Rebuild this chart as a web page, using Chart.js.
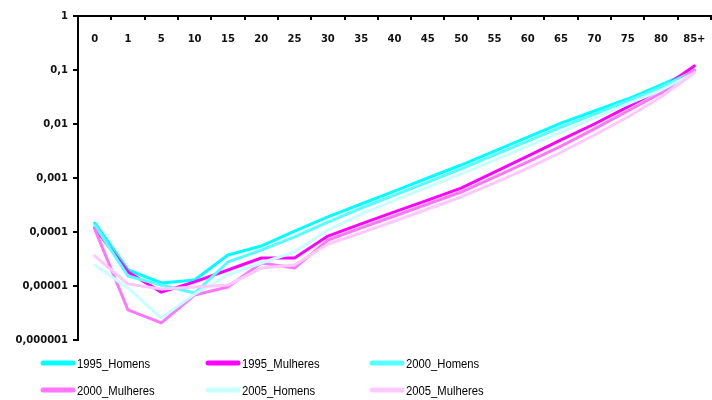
<!DOCTYPE html>
<html>
<head>
<meta charset="utf-8">
<script src="https://cdn.jsdelivr.net/npm/chart.js@4.4.1/dist/chart.umd.min.js"></script>
<style>
  html, body { margin: 0; padding: 0; background: #fff; }
  #wrap { position: relative; width: 712px; height: 400px; }
</style>
</head>
<body>
<div id="wrap"><canvas id="c" width="712" height="400"></canvas></div>
<script>
// Age groups (top axis)
const ageGroups = ['0', '1', '5', '10', '15', '20', '25', '30', '35', '40', '45', '50', '55', '60', '65', '70', '75', '80', '85+'];

// Log axis ticks and their labels (decimal comma)
const yTickValues = [0.000001, 0.00001, 0.0001, 0.001, 0.01, 0.1, 1];
const yTickLabels = ['0,000001', '0,00001', '0,0001', '0,001', '0,01', '0,1', '1'];

// Mortality rates by age group
const homens1995   = [1.47e-4, 1.98e-5, 1.14e-5, 1.29e-5, 3.75e-5, 5.5e-5, 1.04e-4, 1.9e-4, 3.3e-4, 5.7e-4, 1.0e-3, 1.74e-3, 3.16e-3, 5.7e-3, 1.04e-2, 1.74e-2, 2.9e-2, 5.3e-2, 0.100];
const mulheres1995 = [1.19e-4, 1.82e-5, 7.7e-6, 1.19e-5, 1.98e-5, 3.3e-5, 3.3e-5, 8.4e-5, 1.41e-4, 2.35e-4, 3.9e-4, 6.5e-4, 1.29e-3, 2.55e-3, 5.1e-3, 1.0e-2, 2.07e-2, 4.45e-2, 0.119];
const homens2000   = [1.35e-4, 1.53e-5, 1.04e-5, 7.4e-6, 2.78e-5, 4.6e-5, 8.1e-5, 1.53e-4, 2.78e-4, 4.8e-4, 8.4e-4, 1.47e-3, 2.67e-3, 4.8e-3, 8.8e-3, 1.53e-2, 2.67e-2, 4.8e-2, 0.096];
const mulheres2000 = [1.14e-4, 3.6e-6, 2.07e-6, 6.8e-6, 9.6e-6, 2.67e-5, 2.15e-5, 7.1e-5, 1.19e-4, 1.98e-4, 3.3e-4, 5.5e-4, 1.04e-3, 1.98e-3, 3.9e-3, 8.1e-3, 1.74e-2, 3.75e-2, 0.100];
const homens2005   = [2.45e-5, 9.2e-6, 2.55e-6, 7.1e-6, 1.6e-5, 2.67e-5, 4.26e-5, 1.09e-4, 2.15e-4, 3.9e-4, 6.8e-4, 1.19e-3, 2.15e-3, 3.9e-3, 7.1e-3, 1.29e-2, 2.35e-2, 4.26e-2, 0.088];
const mulheres2005 = [3.6e-5, 1.09e-5, 8.8e-6, 9.6e-6, 1.04e-5, 2.15e-5, 2.45e-5, 6.0e-5, 9.6e-5, 1.6e-4, 2.67e-4, 4.45e-4, 8.1e-4, 1.53e-3, 3.0e-3, 6.25e-3, 1.35e-2, 3.16e-2, 0.088];

const seriesNames  = ['1995_Homens', '1995_Mulheres', '2000_Homens', '2000_Mulheres', '2005_Homens', '2005_Mulheres'];
const seriesData   = [homens1995, mulheres1995, homens2000, mulheres2000, homens2005, mulheres2005];
const seriesColors = ['#00FFFF', '#FF00FF', '#55FFFF', '#FF77FF', '#C8FFFF', '#FFC8FF'];

const datasets = seriesNames.map((name, i) => ({
  label: name,
  data: seriesData[i],
  borderColor: seriesColors[i],
  backgroundColor: seriesColors[i],
  borderWidth: 3,
  pointRadius: 0,
  tension: 0,
  fill: false,
  borderJoinStyle: 'round',
  borderCapStyle: 'round',
  order: seriesNames.length - 1 - i   // later series drawn on top
}));

const tickFont = { family: '"DejaVu Sans", Verdana, sans-serif', size: 10, weight: 'bold' };

// Category labels of the top axis, placed just under the axis line
const innerTopLabels = {
  id: 'innerTopLabels',
  afterDraw(chart) {
    const ctx = chart.ctx;
    const xScale = chart.scales.x;
    const y = chart.chartArea.top + 23;
    ctx.save();
    ctx.font = `bold ${tickFont.size}px ${tickFont.family}`;
    ctx.fillStyle = '#111';
    ctx.textAlign = 'center';
    ctx.textBaseline = 'middle';
    chart.data.labels.forEach((lab, i) => {
      ctx.fillText(lab, xScale.getPixelForValue(i), y);
    });
    ctx.restore();
  }
};

// Three-column legend below the plot
const gridLegend = {
  id: 'gridLegend',
  afterDraw(chart) {
    const ctx = chart.ctx;
    const cols = [41, 206, 370];
    const rows = [363, 390];
    chart.data.datasets.forEach((ds, i) => {
      const x = cols[i % 3];
      const y = rows[Math.floor(i / 3)];
      ctx.save();
      ctx.strokeStyle = ds.borderColor;
      ctx.lineWidth = 5;
      ctx.lineCap = 'round';
      ctx.beginPath();
      ctx.moveTo(x + 2, y);
      ctx.lineTo(x + 32, y);
      ctx.stroke();
      ctx.translate(x + 36, y + 2);
      ctx.scale(0.9, 1);
      ctx.font = '12.5px "Liberation Sans", Arial, sans-serif';
      ctx.fillStyle = '#000';
      ctx.textBaseline = 'middle';
      ctx.textAlign = 'left';
      ctx.fillText(ds.label, 0, 0);
      ctx.restore();
    });
  }
};

new Chart(document.getElementById('c'), {
  type: 'line',
  data: { labels: ageGroups, datasets },
  options: {
    responsive: false,
    devicePixelRatio: 1,
    animation: false,
    layout: { padding: { left: 0, top: 0, right: 1, bottom: 60 } },
    plugins: {
      legend: { display: false },
      tooltip: { enabled: false }
    },
    scales: {
      x: {
        type: 'category',
        position: 'top',
        offset: true,
        grid: {
          offset: true,
          drawOnChartArea: false,
          drawTicks: true,
          tickLength: -4,
          color: '#000',
          lineWidth: 2
        },
        border: { display: true, color: '#000', width: 2 },
        ticks: { display: false, autoSkip: false, maxRotation: 0, minRotation: 0 },
        afterFit(scale) { scale.height = 16; }
      },
      y: {
        type: 'logarithmic',
        position: 'left',
        min: yTickValues[0],
        max: yTickValues[yTickValues.length - 1],
        grid: {
          drawOnChartArea: false,
          drawTicks: true,
          tickLength: 5,
          color: '#000',
          lineWidth: 2
        },
        border: { display: true, color: '#000', width: 2 },
        ticks: {
          padding: 5,
          color: '#111',
          font: tickFont,
          callback: (value) => {
            const idx = yTickValues.findIndex(v => Math.abs(Math.log10(v) - Math.log10(value)) < 1e-6);
            return idx >= 0 ? yTickLabels[idx] : '';
          }
        },
        afterBuildTicks(scale) {
          scale.ticks = yTickValues.map(v => ({ value: v }));
        },
        afterFit(scale) { scale.width = 78; }
      }
    }
  },
  plugins: [innerTopLabels, gridLegend]
});
</script>
</body>
</html>
